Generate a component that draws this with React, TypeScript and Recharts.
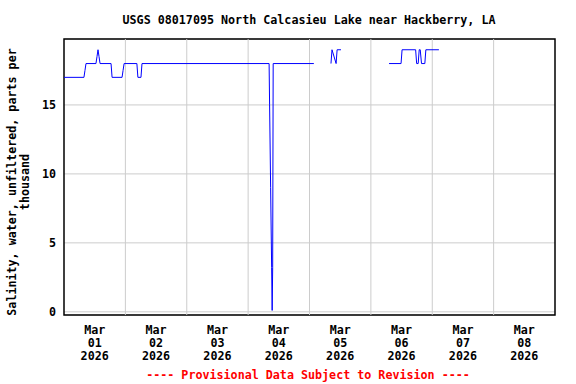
import {
  LineChart,
  Line,
  XAxis,
  YAxis,
  CartesianGrid,
  ReferenceLine,
  ReferenceArea,
} from "recharts";

// hours since Mar 01 2026 00:00, and salinity (ppt); null marks a gap in the record
const HOURS = [
  0, 7.8, 8.2, 8.6, 12.5, 12.9, 13.3, 13.7, 14.1, 18.4, 18.8, 22.7, 23.1, 23.5,
  28.5, 28.9, 30.1, 30.5, 80.2, 80.4, 80.8, 81.2, 81.4, 81.6, 81.8, 97.7, 101,
  104.4, 104.8, 106.4, 106.8, 108.3, 118, 127.1, 131.8, 132.2, 137.5, 137.9,
  138.5, 138.9, 139.3, 139.8, 141.1, 141.5, 146.6,
];
const SALINITY: (number | null)[] = [
  17, 17, 17.5, 18, 18, 18.5, 19, 18.5, 18, 18, 17, 17, 17.5, 18,
  18, 17, 17, 18, 18, 15, 9, 3.2, 0.1, 3.2, 18, 18, null,
  18, 19, 18, 19, 19, null, 18, 18, 19, 19, 18,
  18, 19, 19, 18, 18, 19, 19,
];

const DAY_TICKS = [12, 36, 60, 84, 108, 132, 156, 180];
const DAY_LABELS = ["01", "02", "03", "04", "05", "06", "07", "08"];
const MIDNIGHTS = [24, 48, 72, 96, 120, 144, 168];
const Y_TICKS = [0, 5, 10, 15];

const TITLE = "USGS 08017095 North Calcasieu Lake near Hackberry, LA";
const Y_LABEL_1 = "Salinity, water, unfiltered, parts per";
const Y_LABEL_2 = "thousand";
const FOOTER = "---- Provisional Data Subject to Revision ----";

const data = HOURS.map((h, i) => ({ h, v: SALINITY[i] }));

const FONT = "'DejaVu Sans Mono', monospace";
const FS = 11.7;

const DateTick = ({ x, y, payload }: any) => {
  const idx = DAY_TICKS.indexOf(payload.value);
  const lines = ["Mar", DAY_LABELS[idx], "2026"];
  return (
    <g>
      {lines.map((t, i) => (
        <text
          key={i}
          x={x}
          y={y + 10.5 + i * 13}
          textAnchor="middle"
          fontFamily={FONT}
          fontWeight="bold"
          fontSize={FS}
          fill="#000"
        >
          {t}
        </text>
      ))}
    </g>
  );
};

export default function App() {
  return (
    <div
      style={{
        position: "absolute",
        left: 0,
        top: 0,
        width: 576,
        height: 384,
        background: "#fff",
      }}
    >
      <LineChart
        width={576}
        height={384}
        data={data}
        margin={{ top: 39, right: 21, left: 24, bottom: 19 }}
      >
        <CartesianGrid vertical={false} stroke="#cccccc" />
        {MIDNIGHTS.map((m) => (
          <ReferenceLine key={m} x={m} stroke="#cccccc" />
        ))}
        <XAxis
          dataKey="h"
          type="number"
          domain={[0, 192]}
          ticks={DAY_TICKS}
          allowDataOverflow
          axisLine={false}
          tickLine={false}
          height={50}
          tick={<DateTick />}
        />
        <YAxis
          type="number"
          domain={[-0.23, 19.78]}
          ticks={Y_TICKS}
          allowDataOverflow
          axisLine={false}
          tickLine={false}
          width={40}
          tick={{
            fill: "#000",
            fontSize: FS,
            fontFamily: FONT,
            fontWeight: "bold",
          }}
        />
        <Line
          type="linear"
          dataKey="v"
          stroke="#0000ff"
          strokeWidth={1}
          dot={false}
          connectNulls={false}
          isAnimationActive={false}
        />
        <ReferenceArea
          x1={0}
          x2={192}
          y1={-0.23}
          y2={19.78}
          fill="none"
          stroke="#000"
          strokeWidth={1.5}
          fillOpacity={0}
        />
      </LineChart>
      <svg
        width={576}
        height={384}
        style={{ position: "absolute", left: 0, top: 0, pointerEvents: "none" }}
      >
        <text
          x={309}
          y={24}
          textAnchor="middle"
          fontFamily={FONT}
          fontWeight="bold"
          fontSize={FS}
          fill="#000"
        >
          {TITLE}
        </text>
        <g transform="translate(16,182) rotate(-90)">
          <text
            x={0}
            y={0}
            textAnchor="middle"
            fontFamily={FONT}
            fontWeight="bold"
            fontSize={FS}
            fill="#000"
          >
            {Y_LABEL_1}
          </text>
          <text
            x={0}
            y={13}
            textAnchor="middle"
            fontFamily={FONT}
            fontWeight="bold"
            fontSize={FS}
            fill="#000"
          >
            {Y_LABEL_2}
          </text>
        </g>
        <text
          x={308}
          y={379}
          textAnchor="middle"
          fontFamily={FONT}
          fontWeight="bold"
          fontSize={FS}
          fill="#ff0000"
        >
          {FOOTER}
        </text>
      </svg>
    </div>
  );
}
